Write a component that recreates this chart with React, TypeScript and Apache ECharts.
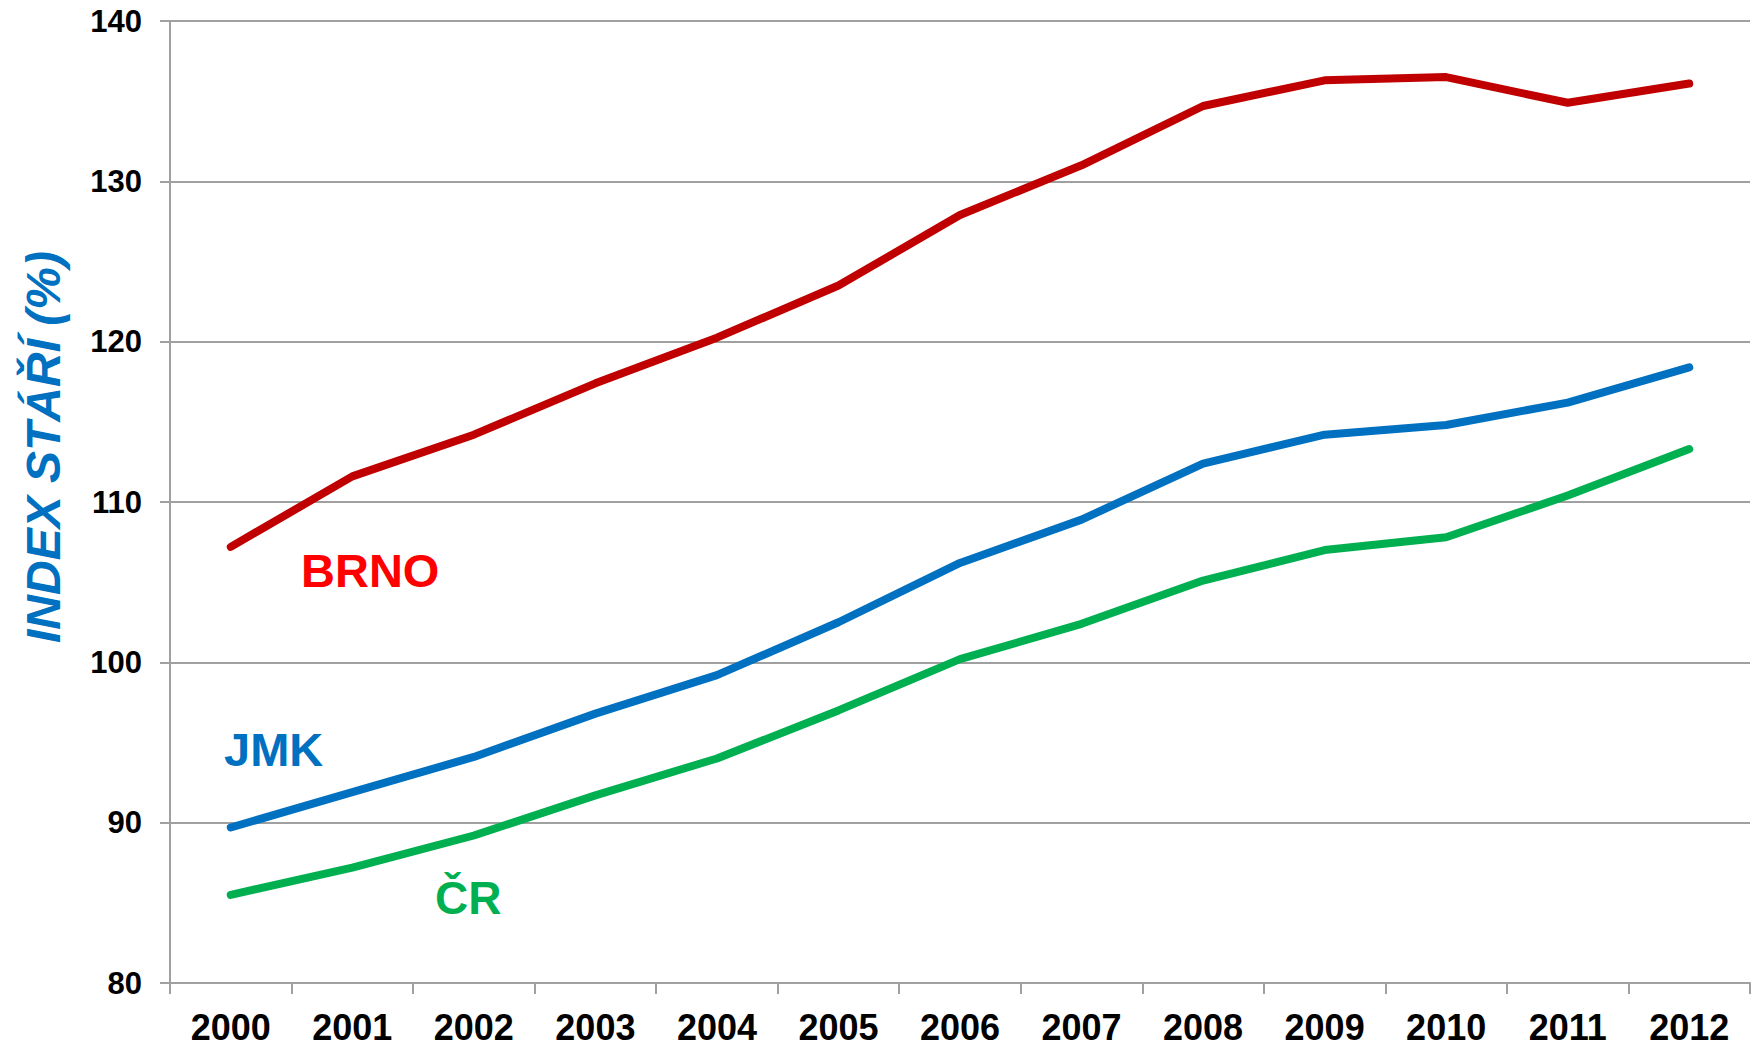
import React, { useEffect, useRef } from "react";
import * as echarts from "echarts";

const years = ["2000", "2001", "2002", "2003", "2004", "2005", "2006", "2007", "2008", "2009", "2010", "2011", "2012"];
const brno = [107.2, 111.6, 114.2, 117.4, 120.25, 123.5, 127.9, 131.0, 134.7, 136.3, 136.5, 134.9, 136.1];
const jmk = [89.7, 91.9, 94.1, 96.8, 99.2, 102.5, 106.2, 108.9, 112.4, 114.2, 114.8, 116.2, 118.4];
const cr = [85.5, 87.2, 89.2, 91.7, 94.0, 97.0, 100.2, 102.4, 105.1, 107.0, 107.8, 110.4, 113.3];

const FONT = "'Liberation Sans', Arial, Helvetica, sans-serif";
const GRID_COLOR = "#a0a0a0";

export default function App() {
  const ref = useRef<HTMLDivElement>(null);
  useEffect(() => {
    if (!ref.current) return;
    const chart = echarts.init(ref.current, undefined, { renderer: "svg" });
    const lineSeries = (name: string, data: number[], color: string) => ({
      name,
      type: "line",
      data,
      showSymbol: false,
      symbol: "none",
      lineStyle: { color, width: 8, cap: "round", join: "round" },
      itemStyle: { color },
      z: 3,
    });
    chart.setOption({
      animation: false,
      backgroundColor: "#ffffff",
      grid: { left: 170, right: 14, top: 21, bottom: 63, containLabel: false },
      xAxis: {
        type: "category",
        data: years,
        boundaryGap: true,
        axisLine: { show: true, lineStyle: { color: GRID_COLOR, width: 2 } },
        axisTick: { show: true, length: 11, alignWithLabel: false, lineStyle: { color: GRID_COLOR, width: 2 } },
        axisLabel: { color: "#000", fontSize: 36, fontWeight: "bold", fontFamily: FONT, margin: 26, interval: 0 },
        splitLine: { show: false },
      },
      yAxis: {
        type: "value",
        min: 80,
        max: 140,
        interval: 10,
        axisLine: { show: true, lineStyle: { color: GRID_COLOR, width: 2 } },
        axisTick: { show: true, length: 10, lineStyle: { color: GRID_COLOR, width: 2 } },
        axisLabel: { color: "#000", fontSize: 31, fontWeight: "bold", fontFamily: FONT, margin: 28 },
        splitLine: { show: true, lineStyle: { color: GRID_COLOR, width: 2 } },
      },
      series: [
        lineSeries("BRNO", brno, "#C00000"),
        lineSeries("JMK", jmk, "#0070C0"),
        lineSeries("ČR", cr, "#00B050"),
      ],
      graphic: [
        {
          type: "text",
          x: 43,
          y: 447,
          rotation: Math.PI / 2,
          style: {
            text: "INDEX STÁŘÍ (%)",
            fill: "#0070C0",
            fontSize: 48,
            fontWeight: "bold",
            fontStyle: "italic",
            fontFamily: FONT,
            align: "center",
            verticalAlign: "middle",
          },
        },
        { type: "text", left: 301, top: 547, style: { text: "BRNO", fill: "#FF0000", fontSize: 47, fontWeight: "bold", fontFamily: FONT } },
        { type: "text", left: 224, top: 726, style: { text: "JMK", fill: "#0070C0", fontSize: 47, fontWeight: "bold", fontFamily: FONT } },
        { type: "text", left: 435, top: 875, style: { text: "ČR", fill: "#00B050", fontSize: 46, fontWeight: "bold", fontFamily: FONT } },
      ],
    });
    return () => chart.dispose();
  }, []);
  return (
    <div
      ref={ref}
      style={{ position: "fixed", left: 0, top: 0, width: 1764, height: 1046, background: "#fff" }}
    />
  );
}
